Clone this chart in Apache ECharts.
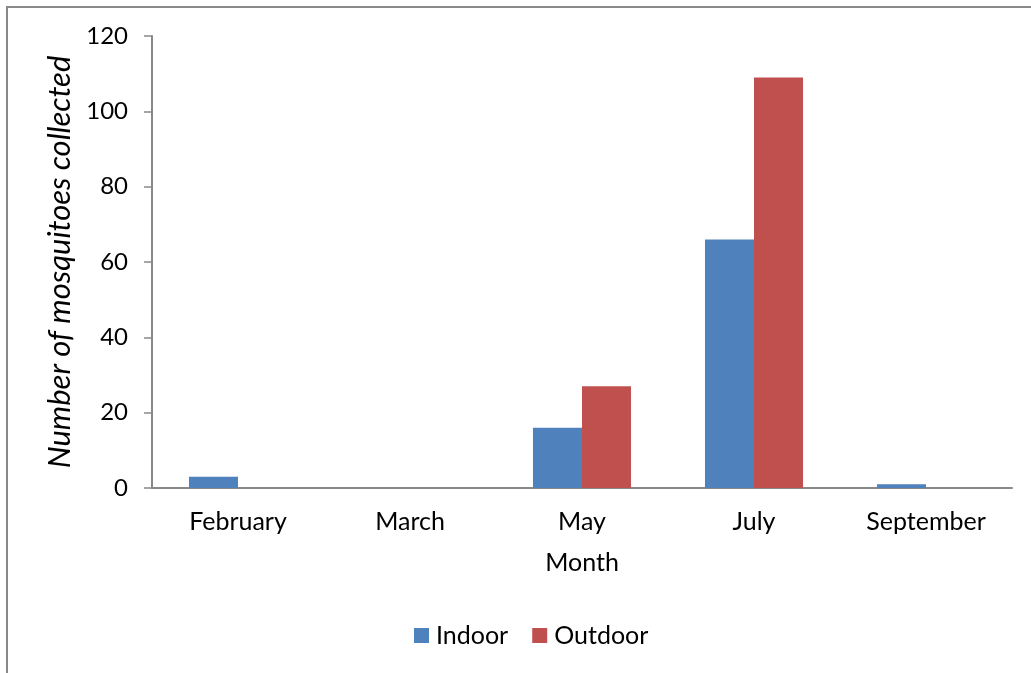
<!DOCTYPE html>
<html>
<head>
<meta charset="utf-8">
<script src="https://cdn.jsdelivr.net/npm/echarts@6/dist/echarts.min.js"></script>
<style>
  html, body { margin: 0; padding: 0; background: #fff; }
  #chart { width: 1031px; height: 673px; }
</style>
</head>
<body>
<div id="chart"></div>
<script>
// data
var months = ['February', 'March', 'May', 'July', 'September'];
var indoor = [3, 0, 16, 66, 1];
var outdoor = [0, 0, 27, 109, 0];
var yTicks = { min: 0, max: 120, interval: 20 };

var font = 'Lato, "Open Sans", sans-serif';
var axisGray = '#898989';

var myChart = echarts.init(document.getElementById('chart'));
var option = {
    animation: false,
    textStyle: { fontFamily: font },
    graphic: [{
        type: 'rect',
        shape: { x: 7, y: 7, width: 1200, height: 1000 },
        style: { fill: 'none', stroke: axisGray, lineWidth: 2 },
        silent: true
    }],
    grid: { left: 152, right: 19, top: 36, bottom: 185 },
    legend: {
        bottom: 20,
        left: 409,
        itemWidth: 15,
        itemHeight: 15,
        itemGap: 24,
        textStyle: { fontSize: 25, color: '#000', fontFamily: font, padding: [0, 0, 0, 2] },
        data: [{ name: 'Indoor', icon: 'rect' }, { name: 'Outdoor', icon: 'rect' }]
    },
    xAxis: {
        type: 'category',
        data: months,
        name: 'Month',
        nameLocation: 'middle',
        nameGap: 62,
        nameTextStyle: { fontSize: 25, color: '#000', fontFamily: font },
        axisLine: { lineStyle: { color: axisGray, width: 2 } },
        axisTick: { show: false },
        axisLabel: { fontSize: 25, color: '#000', margin: 21, fontFamily: font },
        splitLine: { show: false }
    },
    yAxis: {
        type: 'value',
        min: yTicks.min,
        max: yTicks.max,
        interval: yTicks.interval,
        name: 'Number of mosquitoes collected',
        nameLocation: 'middle',
        nameGap: 74,
        nameTextStyle: { fontSize: 31, color: '#000', fontStyle: 'italic', fontFamily: font },
        axisLine: { show: true, lineStyle: { color: axisGray, width: 2 } },
        axisTick: { show: true, length: 8, lineStyle: { color: axisGray, width: 1.5 } },
        axisLabel: { fontSize: 24, color: '#000', margin: 24, fontFamily: font },
        splitLine: { show: false }
    },
    series: [
        {
            name: 'Indoor',
            type: 'bar',
            data: indoor,
            barGap: '0%',
            barCategoryGap: '43%',
            itemStyle: { color: '#4F81BD' }
        },
        {
            name: 'Outdoor',
            type: 'bar',
            data: outdoor,
            itemStyle: { color: '#C0504D' }
        }
    ]
};
myChart.setOption(option);
</script>
</body>
</html>
